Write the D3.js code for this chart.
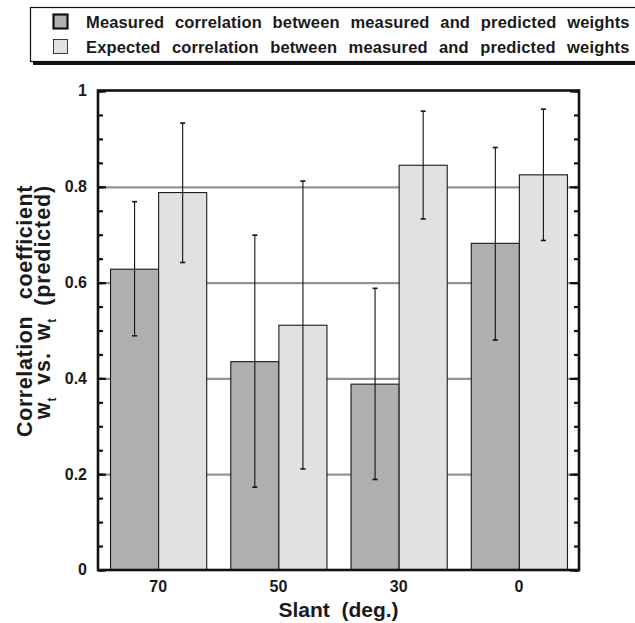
<!DOCTYPE html>
<html>
<head>
<meta charset="utf-8">
<script src="https://cdn.jsdelivr.net/npm/d3@7"></script>
<style>
  html, body { margin: 0; padding: 0; background: #fff; }
  svg { display: block; }
  text { font-family: "Liberation Sans", Arial, Helvetica, sans-serif; font-weight: bold; fill: #1a1a1a; }
</style>
</head>
<body>
<div id="chart"></div>
<script>
// 데이터
const categories = ["70", "50", "30", "0"];
const seriesNames = ["Measured correlation between measured and predicted weights",
                     "Expected correlation between measured and predicted weights"];
const measured   = [0.628, 0.435, 0.388, 0.682];
const measuredLo = [0.489, 0.173, 0.189, 0.480];
const measuredHi = [0.769, 0.699, 0.588, 0.882];
const expected   = [0.788, 0.511, 0.845, 0.825];
const expectedLo = [0.642, 0.211, 0.733, 0.688];
const expectedHi = [0.933, 0.812, 0.958, 0.962];
const majorTicks = [0, 0.2, 0.4, 0.6, 0.8, 1];
const majorLabels = ["0", "0.2", "0.4", "0.6", "0.8", "1"];
const gridValues = [0.2, 0.4, 0.6, 0.8];

const W = 635, H = 623;
const colors = ["#afafb1", "#e1e1e3"];

const svg = d3.select("#chart").append("svg").attr("width", W).attr("height", H);

const x0 = d3.scaleBand().domain(categories).range([98, 579]).paddingInner(0.2).paddingOuter(0.1);
const x1 = d3.scaleBand().domain([0, 1]).range([0, x0.bandwidth()]);
const y = d3.scaleLinear().domain([0, 1]).range([570, 91]);

const rows = categories.map((c, i) => ({
    cat: c,
    bars: [
        { s: 0, v: measured[i], lo: measuredLo[i], hi: measuredHi[i] },
        { s: 1, v: expected[i], lo: expectedLo[i], hi: expectedHi[i] }
    ]
}));

// 그리드선
svg.append("g")
    .attr("transform", "translate(98,0)")
    .call(d3.axisLeft(y).tickValues(gridValues).tickSize(-(579 - 98)).tickFormat(""))
    .call(g => g.select(".domain").remove())
    .call(g => g.selectAll("line").attr("stroke", "#939393").attr("stroke-width", 2.2));

// 막대
const groups = svg.append("g").selectAll("g").data(rows).join("g")
    .attr("transform", d => `translate(${x0(d.cat)},0)`);

groups.selectAll("rect").data(d => d.bars).join("rect")
    .attr("x", d => x1(d.s) + 0.5)
    .attr("y", d => y(d.v))
    .attr("width", x1.bandwidth())
    .attr("height", d => y(0) - y(d.v))
    .attr("fill", d => colors[d.s])
    .attr("stroke", "#1a1a1a")
    .attr("stroke-width", 1.1);

// 오차 막대
const err = groups.selectAll("g.err").data(d => d.bars).join("g").attr("class", "err")
    .attr("transform", d => `translate(${x1(d.s) + x1.bandwidth() / 2 + 0.5},0)`)
    .attr("stroke", "#111");
err.append("line").attr("y1", d => y(d.lo)).attr("y2", d => y(d.hi)).attr("stroke-width", 1.1);
err.append("line").attr("x1", -2.5).attr("x2", 2.5).attr("y1", d => y(d.hi)).attr("y2", d => y(d.hi)).attr("stroke-width", 1.6);
err.append("line").attr("x1", -2.5).attr("x2", 2.5).attr("y1", d => y(d.lo)).attr("y2", d => y(d.lo)).attr("stroke-width", 1.6);

// 축 눈금 (안쪽)
const minor = d3.range(0, 1.0001, 0.05);
svg.append("g").attr("transform", "translate(98,0)")
    .call(d3.axisLeft(y).tickValues(minor).tickSize(-5).tickFormat(""))
    .call(g => g.select(".domain").remove())
    .call(g => g.selectAll("line").attr("stroke", "#111").attr("stroke-width", 2.2));
svg.append("g").attr("transform", "translate(98,0)")
    .call(d3.axisLeft(y).tickValues(majorTicks).tickSize(-8).tickPadding(11)
        .tickFormat((d, i) => majorLabels[i]))
    .call(g => g.select(".domain").remove())
    .call(g => g.selectAll("line").attr("stroke", "#111").attr("stroke-width", 2.2))
    .call(g => g.selectAll("text").attr("font-size", 16).attr("fill", "#1a1a1a")
        .attr("font-family", null).attr("dy", "0.3em"));
svg.append("g").attr("transform", "translate(579,0)")
    .call(d3.axisRight(y).tickValues(minor).tickSize(-5).tickFormat(""))
    .call(g => g.select(".domain").remove())
    .call(g => g.selectAll("line").attr("stroke", "#111").attr("stroke-width", 2.2));
svg.append("g").attr("transform", "translate(579,0)")
    .call(d3.axisRight(y).tickValues(majorTicks).tickSize(-9).tickFormat(""))
    .call(g => g.select(".domain").remove())
    .call(g => g.selectAll("line").attr("stroke", "#111").attr("stroke-width", 2.2));

// X축 라벨
svg.append("g").attr("transform", "translate(0,570)")
    .call(d3.axisBottom(x0).tickSize(0).tickPadding(11))
    .call(g => g.select(".domain").remove())
    .call(g => g.selectAll("text").attr("font-size", 16).attr("fill", "#1a1a1a").attr("font-family", null));

// 테두리
svg.append("rect")
    .attr("x", 98).attr("y", 90.5).attr("width", 579 - 98).attr("height", 570 - 90.5)
    .attr("fill", "none").attr("stroke", "#111").attr("stroke-width", 2.6);

// 축 제목
svg.append("text")
    .attr("x", 338.5).attr("y", 617)
    .attr("text-anchor", "middle").attr("font-size", 21)
    .style("white-space", "pre")
    .text("Slant  (deg.)");

const yl = svg.append("g");
yl.append("text")
    .attr("transform", "translate(32,311) rotate(-90)")
    .attr("text-anchor", "middle").attr("font-size", 21.5)
    .attr("letter-spacing", 0.6).attr("word-spacing", 10)
    .text("Correlation coefficient");
const line2 = yl.append("text")
    .attr("transform", "translate(50,302) rotate(-90)")
    .attr("text-anchor", "middle").attr("font-size", 21.5)
    .attr("letter-spacing", 0.9).attr("word-spacing", 5);
line2.append("tspan").text("w");
line2.append("tspan").attr("font-size", 12).attr("dy", 6).text("t");
line2.append("tspan").attr("dy", -6).text(" vs. w");
line2.append("tspan").attr("font-size", 12).attr("dy", 6).text("t");
line2.append("tspan").attr("dy", -6).text(" (predicted)");

// 범례
const leg = svg.append("g");
leg.append("rect").attr("x", 33).attr("y", 10).attr("width", 620).attr("height", 55).attr("fill", "#111");
leg.append("rect").attr("x", 30.5).attr("y", 7.5).attr("width", 620).attr("height", 54)
    .attr("fill", "#fff").attr("stroke", "#111").attr("stroke-width", 1.2);

const legItems = leg.selectAll("g.item").data(seriesNames).join("g").attr("class", "item")
    .attr("transform", (d, i) => `translate(0,${i * 25})`);
legItems.append("rect")
    .attr("x", 53.5).attr("y", 14.5).attr("width", 14).attr("height", 14)
    .attr("fill", (d, i) => colors[i])
    .attr("stroke", "#111").attr("stroke-width", (d, i) => i === 0 ? 2.2 : 0.8);
legItems.append("text")
    .attr("x", 86).attr("y", 27.5)
    .attr("font-size", 16.5)
    .attr("letter-spacing", 0.15)
    .attr("word-spacing", (d, i) => i === 0 ? 6 : 6.6)
    .text(d => d);
</script>
</body>
</html>
